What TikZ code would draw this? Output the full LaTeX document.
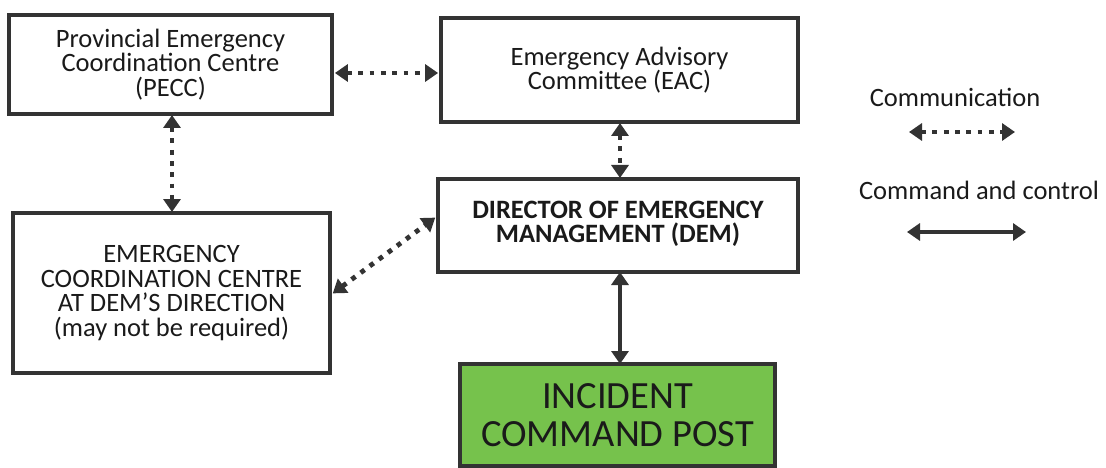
\documentclass[tikz,border=0pt]{standalone}
\usepackage{fontspec}
\setmainfont{Carlito}
\usetikzlibrary{arrows.meta}
\definecolor{edge}{HTML}{333333}
\definecolor{ink}{HTML}{1A1A1A}
\definecolor{postgreen}{HTML}{76C24C}
\begin{document}
\begin{tikzpicture}[x=1pt,y=-1pt,
  box/.style={draw=edge, line width=3.8pt, fill=white, align=center, text=ink,
              font=\fontsize{26.5}{24.5}\selectfont, inner sep=0pt},
  >={Triangle[length=13pt,width=17pt]},
  comm/.style={draw=edge, line width=4.8pt, dash pattern=on 4.8pt off 6.5pt,
               <->, shorten <=1pt, shorten >=1pt},
  ctrl/.style={draw=edge, line width=3.5pt, <->},
  legend/.style={text=ink, font=\fontsize{26.5}{24.5}\selectfont, inner sep=0pt}]
\useasboundingbox (0,0) rectangle (1106,468);

% organisation boxes
\node[box, minimum width=323pt, minimum height=99pt] (pecc) at (170.5,64.5)
  {Provincial Emergency\\Coordination Centre\\(PECC)};
\node[box, minimum width=357pt, minimum height=104pt] (eac) at (619.5,70)
  {Emergency Advisory\\Committee (EAC)};
\node[box, minimum width=360pt, minimum height=93pt,
      font=\fontsize{26.5}{28}\selectfont\bfseries] (dem) at (618,225.5)
  {\raisebox{7pt}{\shortstack{DIRECTOR OF EMERGENCY\\[1pt]MANAGEMENT (DEM)}}};
\node[box, minimum width=317pt, minimum height=160pt] (ecc) at (171.5,293)
  {EMERGENCY\\COORDINATION CENTRE\\AT DEM’S DIRECTION\\(may not be required)};
\node[box, fill=postgreen, minimum width=315pt, minimum height=102pt,
      font=\fontsize{38.5}{38}\selectfont] (icp) at (617.5,415)
  {INCIDENT\\COMMAND POST};

% links between the boxes
\draw[comm] (pecc.east |- 0,73) -- (eac.west |- 0,73);
\draw[comm] (172,114) -- (172,213);
\draw[comm] (620,122) -- (620,179);
\draw[comm] (ecc.east |- 0,294) -- (dem.west |- 0,217);
\draw[ctrl] (620,272) -- (620,364);

% legend
\node[legend] (lcomm) at (955,97) {Communication};
\coordinate (lc1) at (908,132);
\coordinate (lc2) at (1016,132);
\draw[comm] (lc1) -- (lc2);
\node[legend] (lctrl) at (979,190) {Command and control};
\coordinate (lk1) at (907,232);
\coordinate (lk2) at (1026,232);
\draw[ctrl] (lk1) -- (lk2);
\end{tikzpicture}
\end{document}
